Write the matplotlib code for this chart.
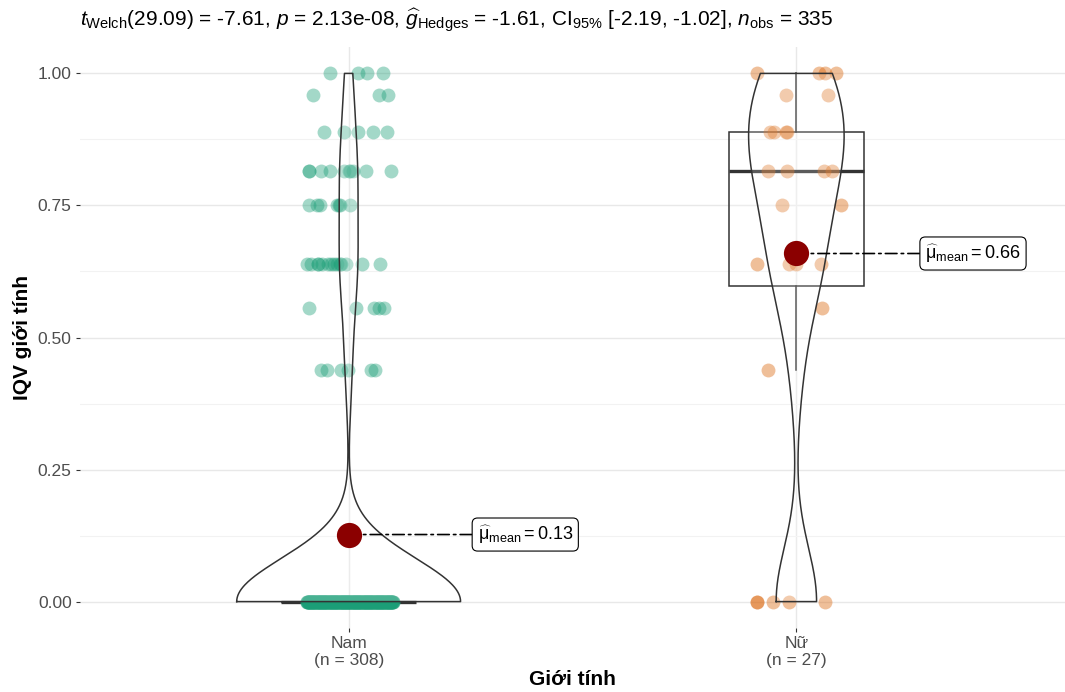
import numpy as np
import matplotlib.pyplot as plt
from matplotlib.patches import Rectangle

plt.rcParams['font.family'] = ['Liberation Sans', 'DejaVu Sans']
plt.rcParams['mathtext.fontset'] = 'custom'
plt.rcParams['mathtext.rm'] = 'Liberation Sans'
plt.rcParams['mathtext.it'] = 'Liberation Sans:italic'
plt.rcParams['mathtext.bf'] = 'Liberation Sans:bold'

# du lieu doc tu hinh
groups = ['Nam', 'Nữ']
levels = [0.0, 0.438, 0.556, 0.64, 0.75, 0.816, 0.889, 0.96, 1.0]
nam_counts = [254, 6, 5, 14, 7, 10, 5, 3, 4]
nu_counts = [5, 1, 1, 4, 2, 4, 4, 2, 4]
colors = ['#1B9E77', '#D95F02']

subtitle = (r'$t_{\mathrm{Welch}}$(29.09) = -7.61, $p$ = 2.13e-08, '
            r'$\widehat{g}_{\mathrm{Hedges}}$ = -1.61, CI$_{95\%}$ [-2.19, -1.02], '
            r'$n_{\mathrm{obs}}$ = 335')
xlab = 'Giới tính'
ylab = 'IQV giới tính'

# do lech jitter (doc tu hinh), theo tung muc gia tri
nam_jitter = [
    list(np.linspace(-0.094, 0.10, 254)),
    [-0.062, -0.049, -0.018, -0.002, 0.049, 0.058],
    [-0.089, 0.016, 0.056, 0.067, 0.080],
    [-0.094, -0.085, -0.069, -0.069, -0.060, -0.047, -0.040, -0.033, -0.025,
     -0.020, -0.016, -0.007, 0.029, 0.071],
    [-0.089, -0.071, -0.065, -0.025, -0.022, -0.020, 0.002],
    [-0.089, -0.089, -0.062, -0.042, -0.011, 0.0, 0.004, 0.009, 0.038, 0.094],
    [-0.056, -0.011, 0.022, 0.054, 0.085],
    [-0.080, 0.067, 0.089],
    [-0.042, 0.022, 0.040, 0.076],
]
nu_jitter = [
    [-0.089, -0.087, -0.053, -0.017, 0.065],
    [-0.064],
    [0.058],
    [-0.087, -0.017, 0.0, 0.056],
    [-0.031, 0.099],
    [-0.064, -0.020, 0.061, 0.079],
    [-0.058, -0.049, -0.024, -0.020],
    [-0.024, 0.070],
    [-0.087, 0.050, 0.065, 0.088],
]


def kde_nrd0(v):
    n = len(v)
    sd = np.std(v, ddof=1)
    q25, q75 = np.percentile(v, [25, 75])
    lo = min(sd, (q75 - q25) / 1.34)
    if lo == 0:
        lo = sd
    bw = 0.9 * lo * n ** -0.2
    grid = np.linspace(v.min(), v.max(), 512)
    dens = np.exp(-0.5 * ((grid[:, None] - v[None, :]) / bw) ** 2).sum(1)
    dens = dens / (n * bw * np.sqrt(2 * np.pi))
    return grid, dens


data = [np.repeat(levels, nam_counts), np.repeat(levels, nu_counts)]
jitters = [nam_jitter, nu_jitter]
kdes = [kde_nrd0(v) for v in data]
dmax = max(d.max() for _, d in kdes)

fig = plt.figure(figsize=(10.65, 6.92), dpi=100)
ax = fig.add_axes([80 / 1065, 1 - 628 / 692, 985 / 1065, 581 / 692])

line_c = '#333333'
for i, v in enumerate(data):
    xc = i + 1
    # boxplot
    q1, med, q3 = np.percentile(v, [25, 50, 75])
    iqr = q3 - q1
    lo_w = v[v >= q1 - 1.5 * iqr].min()
    hi_w = v[v <= q3 + 1.5 * iqr].max()
    ax.add_patch(Rectangle((xc - 0.15, q1), 0.3, q3 - q1, facecolor='white',
                           alpha=0.2, zorder=2))
    ax.add_patch(Rectangle((xc - 0.15, q1), 0.3, q3 - q1, facecolor='none',
                           edgecolor=line_c, lw=1.1, zorder=2))
    ax.plot([xc - 0.15, xc + 0.15], [med, med], color=line_c, lw=2.4, zorder=2,
            solid_capstyle='butt')
    ax.plot([xc, xc], [q3, hi_w], color=line_c, lw=1.1, zorder=2)
    ax.plot([xc, xc], [lo_w, q1], color=line_c, lw=1.1, zorder=2)

    # diem
    xs, ys = [], []
    for lev, jit in zip(levels, jitters[i]):
        xs += [xc + j for j in jit]
        ys += [lev] * len(jit)
    ax.scatter(xs, ys, s=100, color=colors[i], alpha=0.4, linewidths=0, zorder=3)

    # violin
    grid, dens = kdes[i]
    hw = dens / dmax * 0.25
    vx = np.concatenate([xc - hw, (xc + hw)[::-1], [xc - hw[0]]])
    vy = np.concatenate([grid, grid[::-1], [grid[0]]])
    ax.fill(vx, vy, facecolor='white', alpha=0.2, zorder=4)
    ax.plot(vx, vy, color=line_c, lw=1.1, zorder=4)

    # trung binh
    m = v.mean()
    ax.scatter([xc], [m], s=330, color='#8B0000', linewidths=0, zorder=6)
    ax.annotate(r'$\widehat{\mathrm{\mu}}_{\mathrm{mean}}=%.2f$' % m, xy=(xc, m),
                xytext=(xc + 0.288, m), ha='left', va='center', fontsize=13,
                bbox=dict(boxstyle='round,pad=0.3,rounding_size=0.3',
                          facecolor='white', edgecolor='black', lw=0.8),
                arrowprops=dict(arrowstyle='-', color='black', lw=1.2,
                                linestyle=(0, (7, 2.5, 1.5, 2.5)),
                                shrinkA=0, shrinkB=0),
                zorder=5)

ax.set_xlim(0.4, 2.6)
ax.set_ylim(-0.05, 1.05)
ax.set_xticks([1, 2])
ax.set_xticklabels(['%s\n(n = %d)' % (g, len(v)) for g, v in zip(groups, data)],
                   linespacing=1.1)
ax.set_yticks([0, 0.25, 0.5, 0.75, 1.0])
ax.set_yticklabels(['0.00', '0.25', '0.50', '0.75', '1.00'])
ax.set_yticks([0.125, 0.375, 0.625, 0.875], minor=True)
ax.tick_params(which='major', length=3, color=line_c, labelcolor='#4D4D4D',
               labelsize=12.5, pad=3)
ax.tick_params(which='minor', length=0)
ax.grid(which='major', color='#E8E8E8', lw=1.0, zorder=0)
ax.grid(which='minor', axis='y', color='#F2F2F2', lw=0.8, zorder=0)
ax.set_axisbelow(True)
for s in ax.spines.values():
    s.set_visible(False)

ax.set_xlabel(xlab, fontsize=15, fontweight='bold', labelpad=2)
ax.set_ylabel(ylab, fontsize=15, fontweight='bold', labelpad=4)
ax.set_title(subtitle, loc='left', fontsize=15, pad=15)

fig.savefig('out.png', dpi=100)
